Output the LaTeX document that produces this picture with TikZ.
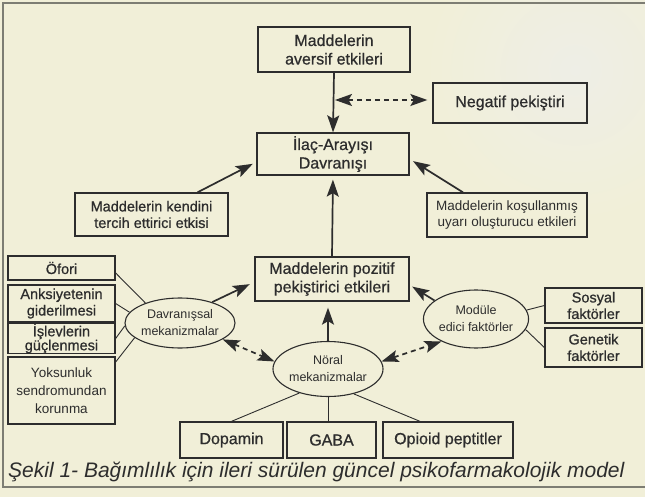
\documentclass[tikz,border=0pt]{standalone}
\usepackage{fontspec}
\setmainfont{Liberation Sans}
\newfontfamily\bxfont[FakeBold=0.7]{Liberation Sans}
\usetikzlibrary{arrows.meta,calc,shapes.geometric}
\definecolor{bgc}{RGB}{241,239,216}
\definecolor{glare}{RGB}{238,238,230}
\definecolor{ink}{RGB}{45,45,45}
\definecolor{framec}{RGB}{125,125,115}
\begin{document}
\begin{tikzpicture}[x=1pt,y=-1pt,
 bx/.style={draw=ink, line width=1.3pt, rectangle, align=center, inner sep=0pt, text=ink, font=\bxfont\fontsize{16}{18.5}\selectfont},
 sbx/.style={bx, font=\bxfont\fontsize{14.5}{16.5}\selectfont},
 tbx/.style={bx, font=\fontsize{13.5}{16}\selectfont},
 el/.style={draw=ink, line width=1.1pt, ellipse, align=center, inner sep=0pt, text=ink, font=\fontsize{12.5}{17}\selectfont},
 tip/.tip={Stealth[length=17pt,width=12pt,inset=3.5pt]},
 arr/.style={draw=ink, line width=1.7pt, -tip},
 darr/.style={draw=ink, line width=1.7pt, dash pattern=on 5pt off 4pt, tip-tip},
 ln/.style={draw=ink, line width=0.9pt}]
\useasboundingbox (0,0) rectangle (645,497);
\fill[bgc] (0,0) rectangle (645,497);
\shade[inner color=glare, outer color=bgc] (575,70) circle (150pt);
\draw[framec, line width=1.2pt] (645,3) -- (3,3) -- (3,487) -- (645,487);

% top
\node[bx, minimum width=152pt, minimum height=45pt] (aversif) at (334,49.5) {Maddelerin\\aversif etkileri};
\node[bx, minimum width=154pt, minimum height=40pt] (negatif) at (510,103) {Negatif peki\c{s}tiri};
\node[bx, minimum width=152pt, minimum height=42pt] (ilac) at (333,154) {\.Ila\c{c}-Aray\i\c{s}\i\\Davran\i\c{s}\i};
\node[sbx, minimum width=153pt, minimum height=43pt] (kendini) at (151.5,214.5) {Maddelerin kendini\\tercih ettirici etkisi};
\node[tbx, minimum width=160pt, minimum height=44pt] (kosul) at (507,215) {Maddelerin ko\c{s}ullanm\i\c{s}\\uyar\i{} olu\c{s}turucu etkileri};
\node[bx, minimum width=154pt, minimum height=44pt] (pozitif) at (332,279) {Maddelerin pozitif\\peki\c{s}tirici etkileri};

% left boxes
\node[sbx, minimum width=107pt, minimum height=24pt] (ofori) at (61.5,268) {\"Ofori};
\node[sbx, minimum width=107pt, minimum height=37pt] (anks) at (61.5,303.5) {Anksiyetenin\\giderilmesi};
\node[sbx, minimum width=107pt, minimum height=27pt, font=\bxfont\fontsize{14.5}{14}\selectfont] (islev) at (61.5,338.5) {\.I\c{s}levlerin\\g\"u\c{c}lenmesi};
\node[tbx, minimum width=107pt, minimum height=67pt, font=\fontsize{13.5}{18}\selectfont] (yoksun) at (61.5,390.5) {Yoksunluk\\sendromundan\\korunma};

% right boxes
\node[sbx, minimum width=97pt, minimum height=35pt] (sosyal) at (593.5,305.5) {Sosyal\\fakt\"orler};
\node[sbx, minimum width=97pt, minimum height=39pt] (genetik) at (593.5,347.5) {Genetik\\fakt\"orler};

% bottom boxes
\node[bx, minimum width=103pt, minimum height=36pt] (dopamin) at (231.5,440) {Dopamin};
\node[bx, minimum width=89pt, minimum height=36pt] (gaba) at (331.5,440) {GABA};
\node[bx, minimum width=130pt, minimum height=36pt] (opioid) at (448,440) {Opioid peptitler};

% ellipses
\node[el, minimum width=100pt, minimum height=50pt] (davr) at (180,323) {Davran\i\c{s}sal\\mekanizmalar};
\node[el, minimum width=98pt, minimum height=55pt] (noral) at (328,369) {N\"oral\\mekanizmalar};
\node[el, minimum width=102pt, minimum height=58pt] (modul) at (476,319) {Mod\"ule\\edici fakt\"orler};

% arrows
\draw[arr] (aversif.south) -- (ilac.north);
\coordinate (dl) at (335,100);
\draw[darr] (dl) -- ([xshift=-5pt]negatif.west |- dl);
\draw[arr, shorten >=4pt] ($(kendini.north)+(46,0)$) -- ($(ilac.west)+(0,8)$);
\draw[arr, shorten >=4pt] ($(kosul.north)+(-44,0)$) -- ($(ilac.east)+(0,5)$);
\draw[arr, shorten >=4pt] (pozitif.north) -- (ilac.south);
\draw[arr, shorten >=5pt] (davr.33) -- ($(pozitif.west)+(0,3)$);
\draw[arr, shorten >=3pt] (modul.156) -- ($(pozitif.east)+(0,6)$);
\draw[arr, shorten >=6pt] (noral.north) -- (noral.north |- pozitif.south);
\draw[darr] (davr.-21) -- (noral.172);
\draw[darr] (noral.8) -- (modul.213);

% plain lines
\draw[ln] (ofori.east |- 0,273) -- (davr.150);
\draw[ln] (anks.east) -- (davr.168);
\draw[ln] (islev.east) -- (davr.183);
\draw[ln] (yoksun.east |- 0,362) -- (davr.198);
\draw[ln] (modul.10) -- (sosyal.west);
\draw[ln] (modul.-12) -- (genetik.west);
\draw[ln] (noral.220) -- (dopamin.north);
\draw[ln] (noral.south) -- (noral.south |- gaba.north);
\draw[ln] (noral.-44) -- ($(opioid.north)+(-28,0)$);

% caption
\node[anchor=base west, inner sep=0pt, text=ink, font=\itshape\fontsize{21}{24}\selectfont] (cap) at (8,477) {\c{S}ekil 1- Ba\u{g}\i ml\i l\i k i\c{c}in ileri s\"ur\"ulen g\"uncel psikofarmakolojik model};
\end{tikzpicture}
\end{document}
